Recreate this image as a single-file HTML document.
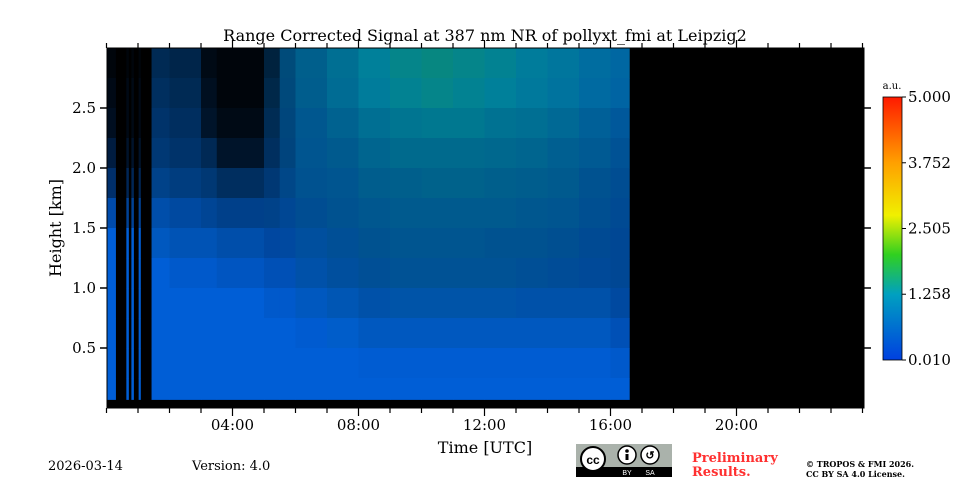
<!DOCTYPE html>
<html><head><meta charset="utf-8">
<style>
html,body{margin:0;padding:0;background:#fff;}
svg{display:block;font-family:"DejaVu Serif","Liberation Serif",serif;}
</style></head>
<body>
<svg id="chart" width="960" height="480" viewBox="0 0 960 480">
  <text x="485" y="41" font-size="16" text-anchor="middle">Range Corrected Signal at 387 nm NR of pollyxt_fmi at Leipzig2</text>
  <rect x="107" y="48" width="757" height="360" fill="#000"/>
  <g id="cells"></g>
  <g id="axes"></g>
  <text x="485" y="453" font-size="16" text-anchor="middle">Time [UTC]</text>
  <text transform="translate(61,228) rotate(-90)" font-size="16" text-anchor="middle">Height [km]</text>
  <defs>
    <linearGradient id="cbgrad" x1="0" y1="1" x2="0" y2="0">
      <stop offset="0" stop-color="#0040e0"/>
      <stop offset="0.25" stop-color="#00a0c0"/>
      <stop offset="0.4" stop-color="#30d020"/>
      <stop offset="0.55" stop-color="#f0f000"/>
      <stop offset="0.75" stop-color="#ffa000"/>
      <stop offset="1" stop-color="#ff1a00"/>
    </linearGradient>
  </defs>
  <rect x="883" y="97" width="19" height="263" fill="url(#cbgrad)" stroke="#000" stroke-width="0.8"/>
  <text x="892" y="89" font-size="10" text-anchor="middle">a.u.</text>
  <g id="cbticks"></g>
  <text x="48" y="470" font-size="13">2026-03-14</text>
  <text x="192" y="470" font-size="13">Version: 4.0</text>
  <g>
    <rect x="576" y="444" width="96" height="33" fill="#aab2ab"/>
    <rect x="576" y="467" width="96" height="10" fill="#000"/>
    <circle cx="593" cy="459" r="12" fill="#fff" stroke="#000" stroke-width="2"/>
    <text x="593" y="464" font-size="12" font-weight="bold" text-anchor="middle" font-family="Liberation Sans,sans-serif">cc</text>
    <circle cx="627" cy="455" r="9" fill="#fff" stroke="#000" stroke-width="1.5"/>
    <circle cx="627" cy="451" r="1.8" fill="#000"/>
    <rect x="625.5" y="454" width="3" height="6" fill="#000"/>
    <circle cx="650" cy="455" r="9" fill="#fff" stroke="#000" stroke-width="1.5"/>
    <text x="650" y="459" font-size="11" font-weight="bold" text-anchor="middle" font-family="Liberation Sans,sans-serif">&#x21BA;</text>
    <text x="627" y="475" font-size="7" fill="#fff" text-anchor="middle" font-family="Liberation Sans,sans-serif">BY</text>
    <text x="650" y="475" font-size="7" fill="#fff" text-anchor="middle" font-family="Liberation Sans,sans-serif">SA</text>
  </g>
  <text x="692" y="462" font-size="13" font-weight="bold" fill="#ff3030">Preliminary</text>
  <text x="692" y="476" font-size="13" font-weight="bold" fill="#ff3030">Results.</text>
  <text x="806" y="467" font-size="8" font-weight="bold">© TROPOS &amp; FMI 2026.</text>
  <text x="806" y="477" font-size="8" font-weight="bold">CC BY SA 4.0 License.</text>
</svg>
<script>
// Time bin edges (hours UTC)
const timeEdges = [0,0.29,0.63,0.70,0.79,0.86,1.02,1.08,1.43,2,3,3.5,5,5.5,6,7,8,9,10,11,12,13,14,15,16,16.6];
// Height bin edges (km), top to bottom
const heightEdges = [3.0,2.75,2.5,2.25,2.0,1.75,1.5,1.25,1.0,0.75,0.5,0.25,0.07];
// Coverage (fraction of non-missing pixels), per time column, rows top->bottom
const coverage = [
 [.05,.1,.15,.3,.5,.8,1,1,1,1,1,1],
 [0,0,0,0,0,0,0,0,0,0,0,0],
 [.05,.1,.1,.2,.4,.7,1,1,1,1,1,1],
 [0,0,0,0,0,0,0,0,0,0,0,0],
 [.05,.1,.1,.2,.4,.7,1,1,1,1,1,1],
 [0,0,0,0,0,0,0,0,0,0,0,0],
 [.05,.1,.1,.2,.4,.7,1,1,1,1,1,1],
 [0,0,0,0,0,0,0,0,0,0,0,0],
 [.4,.45,.5,.55,.65,.8,.9,1,1,1,1,1],
 [.35,.4,.45,.5,.6,.75,.85,.95,1,1,1,1],
 [.1,.15,.2,.4,.55,.7,.85,.95,1,1,1,1],
 [.05,.05,.1,.2,.45,.65,.8,.9,1,1,1,1],
 [.3,.35,.4,.45,.55,.65,.75,.85,.95,1,1,1],
 [.6,.6,.6,.6,.65,.7,.75,.85,.95,1,1,1],
 [.7,.7,.7,.7,.7,.7,.75,.8,.9,.97,1,1],
 [.75,.75,.72,.7,.7,.7,.72,.75,.85,.95,1,1],
 [.8,.8,.75,.72,.7,.7,.7,.72,.8,.9,.98,1],
 [.8,.8,.75,.72,.7,.7,.7,.72,.8,.9,.98,1],
 [.8,.8,.75,.72,.7,.7,.7,.72,.8,.9,.98,1],
 [.8,.8,.75,.72,.7,.7,.7,.72,.8,.9,.98,1],
 [.8,.8,.75,.72,.7,.7,.7,.72,.8,.9,.98,1],
 [.8,.8,.75,.72,.7,.7,.7,.72,.8,.9,.98,1],
 [.8,.8,.75,.72,.7,.7,.7,.72,.8,.9,.98,1],
 [.8,.8,.75,.72,.7,.7,.7,.72,.8,.9,.98,1],
 [.8,.8,.75,.72,.7,.7,.7,.7,.75,.85,.95,1]
];
// Signal (a.u.), per time column, rows top->bottom
const signal = [
 [.4,.4,.4,.4,.4,.4,.4,.4,.4,.4,.4,.4],
 [.4,.4,.4,.4,.4,.4,.4,.4,.4,.4,.4,.4],
 [.4,.4,.4,.4,.4,.4,.4,.4,.4,.4,.4,.4],
 [.4,.4,.4,.4,.4,.4,.4,.4,.4,.4,.4,.4],
 [.4,.4,.4,.4,.4,.4,.4,.4,.4,.4,.4,.4],
 [.4,.4,.4,.4,.4,.4,.4,.4,.4,.4,.4,.4],
 [.4,.4,.4,.4,.4,.4,.4,.4,.4,.4,.4,.4],
 [.4,.4,.4,.4,.4,.4,.4,.4,.4,.4,.4,.4],
 [.55,.55,.5,.5,.5,.45,.45,.4,.4,.4,.4,.4],
 [.55,.55,.5,.5,.5,.45,.45,.4,.4,.4,.4,.4],
 [.5,.5,.5,.5,.5,.45,.45,.4,.4,.4,.4,.4],
 [.5,.5,.5,.5,.5,.45,.45,.4,.4,.4,.4,.4],
 [.65,.65,.6,.55,.5,.5,.4,.4,.4,.4,.4,.4],
 [.8,.75,.7,.65,.6,.5,.45,.4,.4,.4,.4,.4],
 [.95,.9,.8,.75,.7,.6,.55,.5,.45,.4,.4,.4],
 [1.1,1.05,.95,.85,.75,.7,.6,.55,.5,.45,.4,.4],
 [1.25,1.2,1.1,1.0,.9,.8,.7,.6,.5,.45,.4,.4],
 [1.35,1.3,1.2,1.1,.95,.85,.75,.65,.55,.45,.4,.4],
 [1.4,1.35,1.25,1.1,1.0,.85,.75,.65,.55,.45,.4,.4],
 [1.35,1.3,1.25,1.1,1.0,.85,.75,.65,.55,.45,.4,.4],
 [1.3,1.25,1.15,1.05,.95,.85,.7,.65,.55,.45,.4,.4],
 [1.2,1.15,1.1,1.0,.9,.8,.7,.6,.5,.45,.4,.4],
 [1.1,1.05,1.0,.9,.85,.75,.65,.55,.5,.45,.4,.4],
 [.95,.9,.85,.8,.7,.65,.55,.5,.5,.45,.4,.4],
 [.85,.8,.7,.65,.6,.55,.5,.5,.45,.4,.4,.4]
];
const yTicks = [0.5,1.0,1.5,2.0,2.5];
const yTickLabels = ["0.5","1.0","1.5","2.0","2.5"];
const xTicks = [4,8,12,16,20];
const xTickLabels = ["04:00","08:00","12:00","16:00","20:00"];
const cbTicks = [0.010,1.258,2.505,3.752,5.000];
const cbTickLabels = ["0.010","1.258","2.505","3.752","5.000"];

const NS = "http://www.w3.org/2000/svg";
const X0 = 106.5, XPH = 31.5;
const Y0 = 408, YPK = 120;
const xs = t => X0 + t * XPH;
const ys = h => Y0 - h * YPK;
const vmin = 0.01, vmax = 5;
const stops = [[0,[0,64,224]],[0.25,[0,160,192]],[0.4,[48,208,32]],[0.55,[240,240,0]],[0.75,[255,160,0]],[1,[255,26,0]]];
function cmap(v, cov) {
  let f = Math.max(0, Math.min(1, (v - vmin) / (vmax - vmin)));
  let c = stops[stops.length-1][1];
  for (let i = 0; i < stops.length - 1; i++) {
    if (f <= stops[i+1][0]) {
      const a = stops[i], b = stops[i+1], t = (f - a[0]) / (b[0] - a[0]);
      c = a[1].map((x, k) => x + (b[1][k] - x) * t);
      break;
    }
  }
  return "rgb(" + c.map(x => Math.round(x * cov)).join(",") + ")";
}
function el(tag, attrs, parent) {
  const e = document.createElementNS(NS, tag);
  for (const k in attrs) e.setAttribute(k, attrs[k]);
  parent.appendChild(e);
  return e;
}
const cells = document.getElementById("cells");
for (let c = 0; c < timeEdges.length - 1; c++) {
  for (let r = 0; r < heightEdges.length - 1; r++) {
    const cov = coverage[c][r];
    if (cov <= 0) continue;
    const x1 = xs(timeEdges[c]), x2 = xs(timeEdges[c+1]);
    const y1 = ys(heightEdges[r]), y2 = ys(heightEdges[r+1]);
    const rc = el("rect", {x: x1, y: y1, width: x2 - x1 + 0.3, height: y2 - y1 + 0.3, fill: cmap(signal[c][r], cov)}, cells);
    
    
  }
}
const axes = document.getElementById("axes");
el("rect", {x:107, y:48, width:757, height:360, fill:"none", stroke:"#000", "stroke-width":1}, axes);
yTicks.forEach((v, i) => {
  const y = ys(v);
  el("line", {x1:100, x2:107, y1:y, y2:y, stroke:"#000", "stroke-width":1.5}, axes);
  el("line", {x1:864, x2:871, y1:y, y2:y, stroke:"#000", "stroke-width":1.5}, axes);
  const t = el("text", {x:96, y:y + 5, "font-size":15, "text-anchor":"end"}, axes);
  t.textContent = yTickLabels[i];
  
  
});
for (let h = 0; h <= 24; h++) {
  const x = xs(h);
  const major = xTicks.indexOf(h) >= 0;
  el("line", {x1:x, x2:x, y1:408, y2:major ? 416 : 413, stroke:"#000", "stroke-width":1.2}, axes);
  el("line", {x1:x, x2:x, y1:48, y2:major ? 40 : 43, stroke:"#000", "stroke-width":1.2}, axes);
}
xTicks.forEach((v, i) => {
  const t = el("text", {x:xs(v), y:430, "font-size":15, "text-anchor":"middle"}, axes);
  t.textContent = xTickLabels[i];
  
  
});
const cbt = document.getElementById("cbticks");
cbTicks.forEach((v, i) => {
  const y = 360 - (v - vmin) / (vmax - vmin) * 263;
  el("line", {x1:902, x2:906, y1:y, y2:y, stroke:"#000", "stroke-width":1}, cbt);
  const t = el("text", {x:908, y:y + 5, "font-size":15}, cbt);
  t.textContent = cbTickLabels[i];
  
  
});
</script>
</body></html>
